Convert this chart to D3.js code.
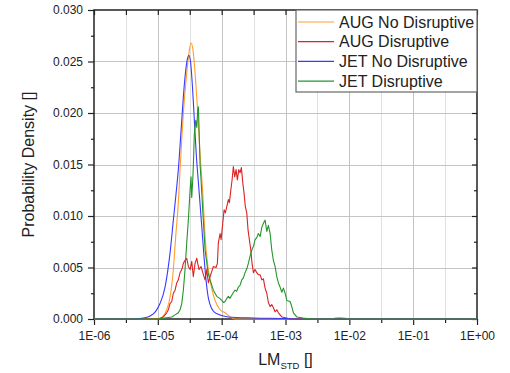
<!DOCTYPE html>
<html>
<head>
<meta charset="utf-8">
<script src="https://cdn.jsdelivr.net/npm/d3@7/dist/d3.min.js"></script>
<style>
    body { margin: 0; background: #fff; }
    text { font-family: Arial, "Liberation Sans", sans-serif; fill: #222; }
</style>
</head>
<body>
<div id="chart-area"></div>
<script>
/* Size of the picture and the plot box */
var width = 510;
var height = 373;
var margin = {top: 10, right: 33, bottom: 54, left: 94};

/* Legend names of the four distributions */
var seriesNames = ["AUG No Disruptive", "AUG Disruptive", "JET No Disruptive", "JET Disruptive"];
var seriesColors = ["#ff9f2e", "#dd2222", "#3a3aff", "#23952a"];

/* Tick values and labels of both axes */
var xTicks = [1e-6, 1e-5, 1e-4, 1e-3, 1e-2, 1e-1, 1];
var xTickLabels = ["1E-06", "1E-05", "1E-04", "1E-03", "1E-02", "1E-01", "1E+00"];
var yTicks = [0, 0.005, 0.010, 0.015, 0.020, 0.025, 0.030];
var yTickLabels = ["0.000", "0.005", "0.010", "0.015", "0.020", "0.025", "0.030"];

/* Each point is [log10(LM_STD), probability density] */
var augNoDisruptive = [
    [-6, 0], [-5.0, 0], [-4.93, 0.0002], [-4.861, 0.0009], [-4.809, 0.0021], [-4.757, 0.0048],
    [-4.72, 0.008], [-4.679, 0.0113], [-4.652, 0.0145], [-4.625, 0.0175], [-4.600, 0.020],
    [-4.547, 0.0239], [-4.506, 0.0261], [-4.480, 0.0268], [-4.453, 0.0263], [-4.417, 0.0239],
    [-4.375, 0.020], [-4.339, 0.0161], [-4.315, 0.014], [-4.287, 0.0113], [-4.260, 0.008],
    [-4.208, 0.0048], [-4.182, 0.0038], [-4.150, 0.0028], [-4.103, 0.0018], [-4.025, 0.0009],
    [-3.947, 0.0006], [-3.868, 0.0002], [-3.80, 0], [-2.30, 0], [-2.22, 0.0001],
    [-2.144, 0.00015], [-2.07, 0.0001], [-2.0, 0], [0, 0]
];

var augDisruptive = [
    [-6, 0], [-5.0, 0], [-4.914, 0.0002], [-4.861, 0.0006], [-4.835, 0.0009], [-4.809, 0.0015],
    [-4.782, 0.0017], [-4.757, 0.0025], [-4.730, 0.0028], [-4.704, 0.0035], [-4.679, 0.0038],
    [-4.652, 0.0045], [-4.625, 0.0048], [-4.600, 0.0054], [-4.574, 0.0057], [-4.547, 0.0059],
    [-4.522, 0.0051], [-4.495, 0.0048], [-4.469, 0.0056], [-4.444, 0.0041], [-4.417, 0.0054],
    [-4.390, 0.0059], [-4.375, 0.0054], [-4.354, 0.0048], [-4.323, 0.0051], [-4.296, 0.0045],
    [-4.260, 0.0038], [-4.234, 0.0048], [-4.208, 0.0035], [-4.182, 0.0041], [-4.146, 0.0048],
    [-4.130, 0.0051], [-4.088, 0.0050], [-4.067, 0.0054], [-4.052, 0.0074], [-4.025, 0.0083],
    [-4.009, 0.0077], [-3.983, 0.0093], [-3.962, 0.0106], [-3.942, 0.0103], [-3.920, 0.0109],
    [-3.895, 0.0116], [-3.879, 0.0113], [-3.857, 0.0125], [-3.837, 0.0135], [-3.817, 0.0148],
    [-3.795, 0.0138], [-3.774, 0.0145], [-3.754, 0.0135], [-3.732, 0.0145], [-3.712, 0.0142],
    [-3.691, 0.0147], [-3.669, 0.0132], [-3.649, 0.0122], [-3.629, 0.0109], [-3.607, 0.0103],
    [-3.586, 0.0086], [-3.566, 0.0077], [-3.544, 0.0067], [-3.524, 0.0054], [-3.503, 0.0045],
    [-3.477, 0.0048], [-3.450, 0.0045], [-3.425, 0.0043], [-3.398, 0.0043], [-3.371, 0.0038],
    [-3.346, 0.0039], [-3.320, 0.0030], [-3.293, 0.0025], [-3.268, 0.0016], [-3.241, 0.0012],
    [-3.215, 0.0014], [-3.190, 0.0011], [-3.163, 0.0007], [-3.136, 0.0009], [-3.111, 0.0006],
    [-3.085, 0.0004], [-3.058, 0.0002], [-2.980, 0.0001], [-2.93, 0], [0, 0]
];

var jetNoDisruptive = [
    [-6, 0], [-5.35, 0], [-5.23, 0.0001], [-5.12, 0.0003], [-5.04, 0.0007], [-4.966, 0.0015],
    [-4.887, 0.0031], [-4.809, 0.0064], [-4.757, 0.0096], [-4.714, 0.0122], [-4.679, 0.0145],
    [-4.636, 0.0183], [-4.600, 0.0216], [-4.562, 0.0242], [-4.535, 0.0253], [-4.515, 0.0256],
    [-4.490, 0.0251], [-4.458, 0.0226], [-4.428, 0.0193], [-4.396, 0.0158], [-4.365, 0.0133],
    [-4.339, 0.0112], [-4.307, 0.0086], [-4.276, 0.0060], [-4.245, 0.0038], [-4.213, 0.0022],
    [-4.182, 0.0014], [-4.135, 0.0008], [-4.072, 0.0005], [-3.90, 0.0002], [-3.5, 0.0001],
    [-3.0, 0.00005], [-2.8, 0], [0, 0]
];

var jetDisruptive = [
    [-6, 0], [-5.0, 0], [-4.782, 0.0002], [-4.730, 0.0004], [-4.679, 0.0006], [-4.652, 0.0009],
    [-4.625, 0.0015], [-4.600, 0.0028], [-4.574, 0.0048], [-4.547, 0.0074], [-4.522, 0.0096],
    [-4.495, 0.0125], [-4.480, 0.0138], [-4.469, 0.0118], [-4.453, 0.0135], [-4.444, 0.0148],
    [-4.428, 0.0180], [-4.406, 0.0193], [-4.390, 0.0186], [-4.375, 0.0203], [-4.365, 0.0206],
    [-4.354, 0.0184], [-4.339, 0.0151], [-4.323, 0.0135], [-4.296, 0.0105], [-4.260, 0.0067],
    [-4.213, 0.0045], [-4.182, 0.0038], [-4.130, 0.0028], [-4.077, 0.0022], [-4.030, 0.0020],
    [-3.998, 0.0018], [-3.970, 0.0016], [-3.947, 0.0017], [-3.920, 0.0020], [-3.895, 0.0022],
    [-3.870, 0.0020], [-3.842, 0.0023], [-3.815, 0.0026], [-3.790, 0.0028], [-3.765, 0.0027],
    [-3.738, 0.0031], [-3.710, 0.0033], [-3.685, 0.0038], [-3.660, 0.0040], [-3.633, 0.0045],
    [-3.605, 0.0049], [-3.582, 0.0054], [-3.555, 0.0061], [-3.528, 0.0067], [-3.500, 0.0071],
    [-3.477, 0.0077], [-3.450, 0.0079], [-3.425, 0.0083], [-3.398, 0.0080], [-3.371, 0.0089],
    [-3.346, 0.0093], [-3.320, 0.0096], [-3.293, 0.0085], [-3.268, 0.0091], [-3.241, 0.0083],
    [-3.215, 0.0067], [-3.190, 0.0057], [-3.163, 0.0051], [-3.136, 0.0041], [-3.111, 0.0035],
    [-3.085, 0.0031], [-3.058, 0.0026], [-3.033, 0.0030], [-3.006, 0.0025], [-2.980, 0.0018],
    [-2.928, 0.0017], [-2.901, 0.0012], [-2.876, 0.0006], [-2.823, 0.0002], [-2.724, 0.0001],
    [-2.6, 0], [0, 0]
];

var allSeries = [augNoDisruptive, augDisruptive, jetNoDisruptive, jetDisruptive];
var smoothSeries = [true, false, true, false];

/* Scales */
var x = d3.scaleLog()
    .domain([1e-6, 1])
    .range([margin.left, width - margin.right]);

var y = d3.scaleLinear()
    .domain([0, 0.03])
    .range([height - margin.bottom, margin.top]);

var x0 = margin.left, x1 = width - margin.right;
var y0 = height - margin.bottom, y1 = margin.top;

/* Half decade minor ticks, and minor ticks between the y labels */
var xMinor = xTicks.slice(1).map(t => t / Math.sqrt(10));
var yMinor = yTicks.slice(1).map(t => t - 0.0025);

var svg = d3.select("#chart-area")
    .append("svg")
    .attr("width", width)
    .attr("height", height);

/* Grid lines */
var grid = svg.append("g").attr("class", "grid");

grid.selectAll(".xminor")
    .data(xMinor)
    .enter().append("line")
    .attr("x1", d => Math.round(x(d)) + 0.5)
    .attr("x2", d => Math.round(x(d)) + 0.5)
    .attr("y1", y1)
    .attr("y2", y0)
    .attr("stroke", "#e0e0e0");

grid.selectAll(".xmajor")
    .data(xTicks.slice(1, -1))
    .enter().append("line")
    .attr("x1", d => Math.round(x(d)) + 0.5)
    .attr("x2", d => Math.round(x(d)) + 0.5)
    .attr("y1", y1)
    .attr("y2", y0)
    .attr("stroke", "#c4c4c4");

grid.selectAll(".ymajor")
    .data(yTicks.slice(1, -1))
    .enter().append("line")
    .attr("x1", x0)
    .attr("x2", x1)
    .attr("y1", d => Math.round(y(d)) + 0.5)
    .attr("y2", d => Math.round(y(d)) + 0.5)
    .attr("stroke", "#c4c4c4");

/* Axes: left and bottom with labels, top and right mirrored inwards */
function styleAxis(g) {
    g.select(".domain").remove();
    g.selectAll("line").attr("stroke", "#222").attr("stroke-width", 1.2);
    g.selectAll("text")
        .attr("font-family", "Arial, 'Liberation Sans', sans-serif")
        .attr("font-size", 12)
        .attr("fill", "#333");
}

svg.append("g")
    .attr("transform", "translate(0," + y0 + ")")
    .call(d3.axisBottom(x).tickValues(xTicks).tickFormat((d, i) => xTickLabels[i]).tickSize(6).tickPadding(6))
    .call(styleAxis);

svg.append("g")
    .attr("transform", "translate(0," + y0 + ")")
    .call(d3.axisBottom(x).tickValues(xMinor).tickFormat("").tickSize(4))
    .call(styleAxis);

svg.append("g")
    .attr("transform", "translate(" + x0 + ",0)")
    .call(d3.axisLeft(y).tickValues(yTicks).tickFormat((d, i) => yTickLabels[i]).tickSize(6).tickPadding(5))
    .call(styleAxis);

svg.append("g")
    .attr("transform", "translate(" + x0 + ",0)")
    .call(d3.axisLeft(y).tickValues(yMinor).tickFormat("").tickSize(3))
    .call(styleAxis);

svg.append("g")
    .attr("transform", "translate(0," + y1 + ")")
    .call(d3.axisTop(x).tickValues(xTicks.concat(xMinor)).tickFormat("").tickSize(-5))
    .call(styleAxis);

svg.append("g")
    .attr("transform", "translate(" + x1 + ",0)")
    .call(d3.axisRight(y).tickValues(yTicks).tickFormat("").tickSize(-5))
    .call(styleAxis);

svg.append("g")
    .attr("transform", "translate(" + x1 + ",0)")
    .call(d3.axisRight(y).tickValues(yMinor).tickFormat("").tickSize(-3))
    .call(styleAxis);

/* Frame around the plot */
svg.append("rect")
    .attr("x", x0)
    .attr("y", y1)
    .attr("width", x1 - x0)
    .attr("height", y0 - y1)
    .attr("fill", "none")
    .attr("stroke", "#222")
    .attr("stroke-width", 1.5);

/* The density curves */
allSeries.forEach(function(data, i) {
    var line = d3.line()
        .x(d => x(Math.pow(10, d[0])))
        .y(d => y(d[1]))
        .curve(smoothSeries[i] ? d3.curveMonotoneX : d3.curveLinear);

    svg.append("path")
        .datum(data)
        .attr("d", line)
        .attr("fill", "none")
        .attr("stroke", seriesColors[i])
        .attr("stroke-width", 1.1)
        .attr("stroke-linejoin", "round");
});

/* Legend box */
var legend = svg.append("g").attr("class", "legend");

legend.append("rect")
    .attr("x", 296)
    .attr("y", y1)
    .attr("width", x1 - 296)
    .attr("height", 82)
    .attr("fill", "#fff")
    .attr("stroke", "#666")
    .attr("stroke-width", 1.2);

legend.selectAll("line")
    .data(seriesNames)
    .enter().append("line")
    .attr("x1", 298)
    .attr("x2", 334)
    .attr("y1", (d, i) => 22 + i * 19.7)
    .attr("y2", (d, i) => 22 + i * 19.7)
    .attr("stroke", (d, i) => seriesColors[i])
    .attr("stroke-width", 1.2);

legend.selectAll("text")
    .data(seriesNames)
    .enter().append("text")
    .attr("x", 339)
    .attr("y", (d, i) => 27.6 + i * 19.7)
    .attr("font-size", 16)
    .text(d => d);

/* Axis titles */
svg.append("text")
    .attr("transform", "translate(34," + ((y0 + y1) / 2) + ") rotate(-90)")
    .attr("text-anchor", "middle")
    .attr("font-size", 16)
    .text("Probability Density []");

var xTitle = svg.append("text")
    .attr("x", (x0 + x1) / 2)
    .attr("y", 364.5)
    .attr("text-anchor", "middle")
    .attr("font-size", 16);

xTitle.append("tspan").text("LM");
xTitle.append("tspan").attr("font-size", 9.5).attr("dy", 4).text("STD");
xTitle.append("tspan").attr("dy", -4).text(" []");
</script>
</body>
</html>
